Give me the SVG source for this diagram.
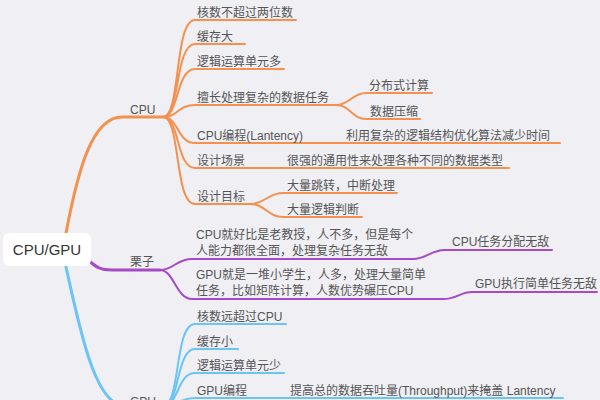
<svg xmlns="http://www.w3.org/2000/svg" width="600" height="400" viewBox="0 0 600 400">
<style>
.bg{fill:#efeff4}
text{font-family:"Liberation Sans","Noto Sans CJK SC",sans-serif;font-size:12px;fill:#555}
.root{font-size:15px;fill:#333}
.o{stroke:#f4914f;fill:none;stroke-width:2;stroke-linecap:round}
.p{stroke:#a64ac6;fill:none;stroke-width:2;stroke-linecap:round}
.b{stroke:#6cc4f6;fill:none;stroke-width:2;stroke-linecap:round}
.t{stroke-width:3}
</style>
<rect class="bg" x="0" y="0" width="600" height="400"/>
<g id="connectors">
<path class="o t" d="M66,233 C78,170 92,117 122,117 L163,117"/>
<path class="o" d="M163,117 C181,117 174,20 195,20 L296,20"/>
<path class="o" d="M163,117 C180,117 175,44 195,44 L245,44"/>
<path class="o" d="M163,117 C179,117 176,69 195,69 L284,69"/>
<path class="o" d="M163,117 C178,117 178,105 195,105 L336,105"/>
<path class="o" d="M336,105 C350,105 352,93 366,93 L432,93"/>
<path class="o" d="M336,105 C350,105 352,119 366,119 L420,119"/>
<path class="o" d="M163,117 C179,117 177,143 195,143 L560,143"/>
<path class="o" d="M163,117 C180,117 176,168 195,168 L509,168"/>
<path class="o" d="M163,117 C181,117 174,204 195,204 L250,204"/>
<path class="o" d="M250,204 C265,204 268,193 283,193 L397,193"/>
<path class="o" d="M250,204 C265,204 268,217 283,217 L362,217"/>
<path class="p t" d="M88,260 C96,267 100,270 112,270 L160,270"/>
<path class="p" d="M160,270 C174,270 176,259 192,259 L413,259 C427,259 430,250 445,250 L552,250"/>
<path class="p" d="M160,270 C174,270 176,299 192,299 L443,299 C457,299 460,292 472,292 L597,292"/>
<path class="b t" d="M66,267 C80,330 95,406 125,406 L163,406"/>
<path class="b" d="M163,406 C181,406 174,324 195,324 L286,324"/>
<path class="b" d="M163,406 C180,406 176,349 195,349 L238,349"/>
<path class="b" d="M163,406 C179,406 177,373 195,373 L284,373"/>
<path class="b" d="M163,406 C178,406 179,398 195,398 L563,398"/>
</g>
<g id="root"><rect x="3" y="233" width="88" height="33" rx="6" fill="#fff"/><text class="root" x="47" y="255" text-anchor="middle">CPU/GPU</text></g>
<g id="cpu"><text x="130" y="114">CPU</text></g>
<g id="c1"><text x="197" y="17">核数不超过两位数</text></g>
<g id="c2"><text x="197" y="41">缓存大</text></g>
<g id="c3"><text x="197" y="66">逻辑运算单元多</text></g>
<g id="c4"><text x="197" y="102">擅长处理复杂的数据任务</text></g>
<g id="c4a"><text x="369" y="90">分布式计算</text></g>
<g id="c4b"><text x="370" y="116">数据压缩</text></g>
<g id="c5"><text x="197" y="140">CPU编程(Lantency)</text></g>
<g id="c5a"><text x="346" y="140">利用复杂的逻辑结构优化算法减少时间</text></g>
<g id="c6"><text x="197" y="165">设计场景</text></g>
<g id="c6a"><text x="287" y="165">很强的通用性来处理各种不同的数据类型</text></g>
<g id="c7"><text x="197" y="201">设计目标</text></g>
<g id="c7a"><text x="287" y="190">大量跳转，中断处理</text></g>
<g id="c7b"><text x="287" y="214">大量逻辑判断</text></g>
<g id="ex"><text x="130" y="266">栗子</text></g>
<g id="e1"><text x="196" y="239">CPU就好比是老教授，人不多，但是每个</text><text x="196" y="255">人能力都很全面，处理复杂任务无敌</text></g>
<g id="e1a"><text x="452" y="246">CPU任务分配无敌</text></g>
<g id="e2"><text x="196" y="279">GPU就是一堆小学生，人多，处理大量简单</text><text x="196" y="295">任务，比如矩阵计算，人数优势碾压CPU</text></g>
<g id="e2a"><text x="475" y="288">GPU执行简单任务无敌</text></g>
<g id="gpu"><text x="130" y="406">GPU</text></g>
<g id="g1"><text x="197" y="321">核数远超过CPU</text></g>
<g id="g2"><text x="197" y="346">缓存小</text></g>
<g id="g3"><text x="197" y="370">逻辑运算单元少</text></g>
<g id="g4"><text x="197" y="395">GPU编程</text></g>
<g id="g4a"><text x="290" y="395">提高总的数据吞吐量(Throughput)来掩盖 Lantency</text></g>
</svg>
